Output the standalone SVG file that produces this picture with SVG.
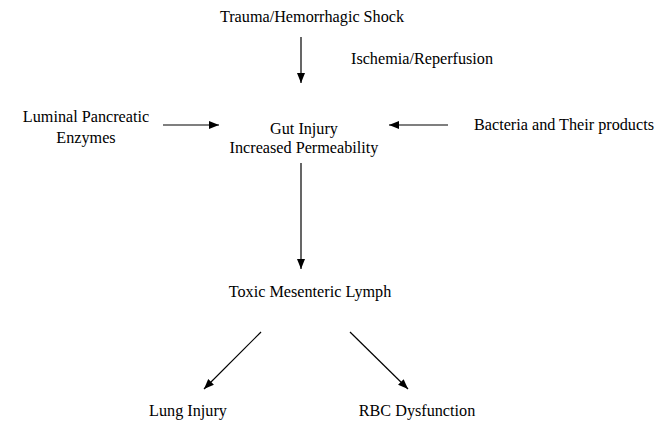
<svg xmlns="http://www.w3.org/2000/svg" width="655" height="421" viewBox="0 0 655 421">
<defs>
<marker id="ah" viewBox="0 0 10 10" refX="10" refY="5" markerWidth="10" markerHeight="10" markerUnits="userSpaceOnUse" orient="auto">
<path d="M0,1 L10,5 L0,9 Z" fill="#000"/>
</marker>
</defs>
<style>
text{font-family:"Liberation Serif","Times New Roman",serif;font-size:16.2px;fill:#000}
.c{text-anchor:middle}
line{stroke:#000;stroke-width:1.2;marker-end:url(#ah)}
</style>
<rect width="655" height="421" fill="#fff"/>
<g id="trauma"><text class="c" x="312" y="22">Trauma/Hemorrhagic Shock</text></g>
<g id="ischemia"><text x="351" y="64">Ischemia/Reperfusion</text></g>
<g id="gut"><text class="c" x="304" y="134">Gut Injury</text><text class="c" x="304" y="153">Increased Permeability</text></g>
<g id="luminal"><text class="c" x="86" y="122">Luminal Pancreatic</text><text class="c" x="86" y="143">Enzymes</text></g>
<g id="bacteria"><text x="474" y="130">Bacteria and Their products</text></g>
<g id="lymph"><text class="c" x="310" y="297">Toxic Mesenteric Lymph</text></g>
<g id="lung"><text class="c" x="188" y="416">Lung Injury</text></g>
<g id="rbc"><text class="c" x="417" y="416">RBC Dysfunction</text></g>
<g id="connectors">
<line x1="301" y1="37" x2="301" y2="83"/>
<line x1="163" y1="125" x2="219" y2="125"/>
<line x1="448" y1="125" x2="389" y2="125"/>
<line x1="301" y1="163" x2="301" y2="269"/>
<line x1="261" y1="332" x2="204" y2="389"/>
<line x1="350" y1="332" x2="408" y2="389"/>
</g>
</svg>
